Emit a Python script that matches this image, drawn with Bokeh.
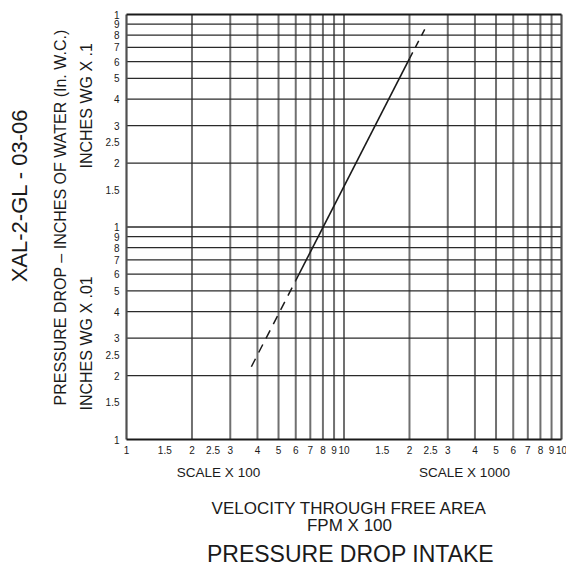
import math
from bokeh.plotting import figure
from bokeh.models import Label
from bokeh.embed import file_html
from bokeh.resources import INLINE
from bokeh.core.properties import value

# ---- data (velocity in FPM, pressure drop in inches W.C.) ----
x_ticks = [100, 150, 200, 250, 300, 400, 500, 600, 700, 800, 900, 1000,
           1500, 2000, 2500, 3000, 4000, 5000, 6000, 7000, 8000, 9000, 10000]
x_labels = ["1", "1.5", "2", "2.5", "3", "4", "5", "6", "7", "8", "9", "10",
            "1.5", "2", "2.5", "3", "4", "5", "6", "7", "8", "9", "10"]
y_ticks = [0.01, 0.015, 0.02, 0.025, 0.03, 0.04, 0.05, 0.06, 0.07, 0.08, 0.09, 0.1,
           0.15, 0.2, 0.25, 0.3, 0.4, 0.5, 0.6, 0.7, 0.8, 0.9, 1.0]
y_labels = ["1", "1.5", "2", "2.5", "3", "4", "5", "6", "7", "8", "9", "1",
            "1.5", "2", "2.5", "3", "4", "5", "6", "7", "8", "9", "1"]
x_grid = [200, 300, 400, 500, 600, 700, 800, 900, 1000,
          2000, 3000, 4000, 5000, 6000, 7000, 8000, 9000]
y_grid = [0.02, 0.03, 0.04, 0.05, 0.06, 0.07, 0.08, 0.09, 0.1,
          0.2, 0.3, 0.4, 0.5, 0.6, 0.7, 0.8, 0.9]
X_MIN, X_MAX = 100, 10000
Y_MIN, Y_MAX = 0.01, 1.0

solid_v = [600, 2000]
solid_p = [0.056, 0.62]
low_dash_v = [375, 600]
low_dash_p = [0.022, 0.056]
high_dash_v = [2000, 2390]
high_dash_p = [0.62, 0.88]

# ---- layout (pixels) ----
W, H = 566, 572
PL, PR, PT, PB = 126, 561, 14, 439   # chart box on the canvas
FONT = "Liberation Sans"
INK = "#1a1a1a"

# ranges so that the chart box sits at the pixel box above, frame = whole canvas
dx = (math.log10(X_MAX) - math.log10(X_MIN)) / (PR - PL)
dy = (math.log10(Y_MAX) - math.log10(Y_MIN)) / (PB - PT)
xr = (10 ** (math.log10(X_MIN) - PL * dx), 10 ** (math.log10(X_MAX) + (W - PR) * dx))
yr = (10 ** (math.log10(Y_MIN) - (H - PB) * dy), 10 ** (math.log10(Y_MAX) + PT * dy))

p = figure(width=W, height=H, x_axis_type="log", y_axis_type="log",
           x_range=xr, y_range=yr,
           x_axis_location=None, y_axis_location=None,
           output_backend="svg", toolbar_location=None,
           min_border=0)
p.background_fill_color = "white"
p.border_fill_color = "white"
p.outline_line_color = None
p.grid.visible = False

# grid lines
nx, ny = len(x_grid), len(y_grid)
p.segment(x0=x_grid, y0=[Y_MIN] * nx, x1=x_grid, y1=[Y_MAX] * nx,
          line_color="#707070", line_width=2)
p.segment(x0=[X_MIN] * ny, y0=y_grid, x1=[X_MAX] * ny, y1=y_grid,
          line_color="#2a2a2a", line_width=1.3)
# chart box
p.segment(x0=[X_MIN, X_MAX], y0=[Y_MIN, Y_MIN], x1=[X_MIN, X_MAX], y1=[Y_MAX, Y_MAX],
          line_color="#505050", line_width=2.2)
p.segment(x0=[X_MIN, X_MIN], y0=[Y_MIN, Y_MAX], x1=[X_MAX, X_MAX], y1=[Y_MIN, Y_MAX],
          line_color=INK, line_width=2)

# tick labels
p.text(x=x_ticks, y=[Y_MIN] * len(x_ticks), text=x_labels, y_offset=6,
       text_align="center", text_baseline="top", text_font=value(FONT),
       text_font_size="10px", text_color=INK)
p.text(x=[X_MIN] * len(y_ticks), y=y_ticks, text=y_labels, x_offset=-7,
       text_align="right", text_baseline="middle", text_font=value(FONT),
       text_font_size="10px", text_color=INK)

# curve
p.line(solid_v, solid_p, line_color=INK, line_width=1.6)
p.line(low_dash_v, low_dash_p, line_color=INK, line_width=1.5, line_dash="9 7")
p.line(high_dash_v, high_dash_p, line_color=INK, line_width=1.5, line_dash="7 6")


def lab(text, px, py, size, align="center", angle=0.0):
    p.add_layout(Label(x=px, y=H - py, x_units="screen", y_units="screen",
                       text=text, text_font=FONT, text_font_size=size,
                       text_color=INK, text_align=align, text_baseline="middle",
                       angle=angle))


lab("XAL-2-GL - 03-06", 19, 195, "22px", "center", math.pi / 2)
lab("PRESSURE DROP \u2013 INCHES OF WATER (In. W.C.)", 60, 405, "16px", "left", math.pi / 2)
lab("INCHES WG X .1", 86, 168, "16px", "left", math.pi / 2)
lab("INCHES WG X .01", 86, 410, "16px", "left", math.pi / 2)
lab("SCALE X 100", 218, 472, "13.5px")
lab("SCALE X 1000", 464, 472, "13.5px")
lab("VELOCITY THROUGH FREE AREA", 349, 508, "17px")
lab("FPM X 100", 349, 525, "17px")
lab("PRESSURE DROP INTAKE", 350, 553, "23px")

open("out.html", "w").write(file_html(p, INLINE))
